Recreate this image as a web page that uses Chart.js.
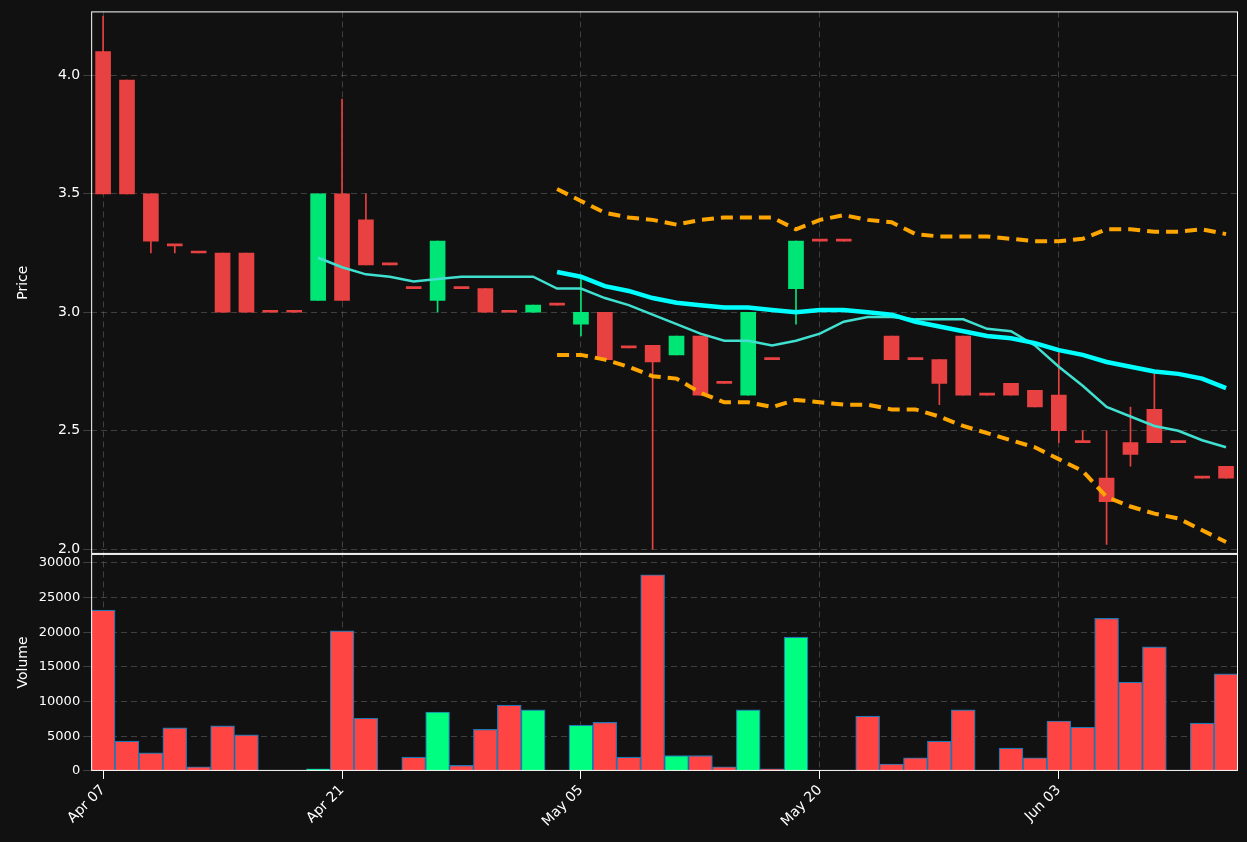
<!DOCTYPE html>
<html><head><meta charset="utf-8">
<script src="https://cdn.jsdelivr.net/npm/chart.js@4"></script>
<style>html,body{margin:0;padding:0;background:#111111;}#c{display:block;}</style>
</head><body>
<div style="width:1247px;height:842px"><canvas id="c"></canvas></div>
<script>
const tickPositions=[0,10,20,30,40];
const tickLabels=["Apr 07","Apr 21","May 05","May 20","Jun 03"];
const openP =[4.1,3.98,3.5,3.28,3.25,3.25,3.25,3.0,3.0,3.05,3.5,3.39,3.2,3.1,3.05,3.1,3.1,3.0,3.0,3.03,2.95,3.0,2.85,2.86,2.82,2.9,2.7,2.65,2.8,3.1,3.3,3.3,null,2.9,2.8,2.8,2.9,2.65,2.7,2.67,2.65,2.45,2.3,2.45,2.59,2.45,2.3,2.35];
const closeP=[3.5,3.5,3.3,3.28,3.25,3.0,3.0,3.0,3.0,3.5,3.05,3.2,3.2,3.1,3.3,3.1,3.0,3.0,3.03,3.03,3.0,2.8,2.85,2.79,2.9,2.65,2.7,3.0,2.8,3.3,3.3,3.3,null,2.8,2.8,2.7,2.65,2.65,2.65,2.6,2.5,2.45,2.2,2.4,2.45,2.45,2.3,2.3];
const highP =[4.25,3.98,3.5,3.28,3.25,3.25,3.25,3.0,3.0,3.5,3.9,3.5,3.2,3.1,3.3,3.1,3.1,3.0,3.03,3.03,3.15,3.0,2.85,2.86,2.9,2.9,2.7,3.0,2.8,3.3,3.3,3.3,null,2.9,2.8,2.8,2.9,2.65,2.7,2.67,2.83,2.5,2.5,2.6,2.74,2.45,2.3,2.35];
const lowP  =[3.5,3.5,3.25,3.25,3.25,3.0,3.0,3.0,3.0,3.05,3.05,3.2,3.2,3.1,3.0,3.1,3.0,3.0,3.0,3.03,2.9,2.8,2.85,2.0,2.82,2.65,2.7,2.65,2.8,2.95,3.3,3.3,null,2.8,2.8,2.61,2.65,2.65,2.65,2.6,2.45,2.45,2.02,2.35,2.45,2.45,2.3,2.3];
const volume=[23200,4300,2600,6200,600,6500,5200,0,0,300,20200,7600,0,2000,8500,800,6000,9500,8800,0,6600,7000,2000,28300,2200,2200,600,8800,300,19300,100,0,7900,1000,1900,4300,8800,0,3300,1900,7200,6300,22000,12800,17900,0,6900,14000];
const ma5=[null,null,null,null,null,null,null,null,null,3.23,3.19,3.16,3.15,3.13,3.14,3.15,3.15,3.15,3.15,3.10,3.10,3.06,3.03,2.99,2.95,2.91,2.88,2.88,2.86,2.88,2.91,2.96,2.98,2.98,2.97,2.97,2.97,2.93,2.92,2.86,2.77,2.69,2.60,2.56,2.52,2.50,2.46,2.43];
const pad19=Array(19).fill(null);
const ma20=pad19.concat([3.17,3.15,3.11,3.09,3.06,3.04,3.03,3.02,3.02,3.01,3.00,3.01,3.01,3.00,2.99,2.96,2.94,2.92,2.90,2.89,2.87,2.84,2.82,2.79,2.77,2.75,2.74,2.72,2.68]);
const upper=pad19.concat([3.52,3.47,3.42,3.40,3.39,3.37,3.39,3.40,3.40,3.40,3.35,3.39,3.41,3.39,3.38,3.33,3.32,3.32,3.32,3.31,3.30,3.30,3.31,3.35,3.35,3.34,3.34,3.35,3.33]);
const lower=pad19.concat([2.82,2.82,2.80,2.77,2.73,2.72,2.66,2.62,2.62,2.60,2.63,2.62,2.61,2.61,2.59,2.59,2.56,2.52,2.49,2.46,2.43,2.38,2.33,2.22,2.18,2.15,2.13,2.08,2.03]);

const RED='#e84141',GREEN='#00e676',VRED='#ff4444',VGREEN='#00ff80';
const labels=openP.map((_,i)=>String(i));
const up=openP.map((o,i)=>closeP[i]>o);
const bodies=openP.map((o,i)=>o==null?null:[Math.min(o,closeP[i]),Math.max(o,closeP[i])]);
const wicks=openP.map((o,i)=>o==null?null:[lowP[i],highP[i]]);
const cCol=up.map(u=>u?GREEN:RED);
const vCol=up.map(u=>u?VGREEN:VRED);

const frame={id:'frame',afterDraw(ch){const c=ch.ctx,a=ch.chartArea;c.save();c.strokeStyle='#ffffff';c.lineWidth=1;
 for(const id of ['y','v']){const s=ch.scales[id];c.strokeRect(a.left+0.5,s.top+0.5,a.right-a.left-1,s.bottom-s.top-1);}c.restore();}};
const gridCol='rgba(120,120,120,0.45)';
const font={family:'DejaVu Sans',size:14};
new Chart(document.getElementById('c'),{
 data:{labels,datasets:[
  {type:'line',data:upper,borderColor:'#ffa500',borderWidth:4,borderDash:[12,7],pointRadius:0,yAxisID:'y',order:1},
  {type:'line',data:lower,borderColor:'#ffa500',borderWidth:4,borderDash:[12,7],pointRadius:0,yAxisID:'y',order:1},
  {type:'line',data:ma20,borderColor:'#00ffff',borderWidth:4.5,pointRadius:0,yAxisID:'y',order:1},
  {type:'line',data:ma5,borderColor:'#40e0d0',borderWidth:2.5,pointRadius:0,yAxisID:'y',order:1},
  {type:'bar',data:wicks,backgroundColor:cCol,barThickness:1,grouped:false,yAxisID:'y',order:3},
  {type:'bar',data:bodies,backgroundColor:cCol,borderColor:cCol,borderWidth:0,barThickness:15,minBarLength:2,grouped:false,yAxisID:'y',order:2},
  {type:'bar',data:volume,backgroundColor:vCol,borderColor:'#1f77b4',borderWidth:1.2,barPercentage:1,categoryPercentage:1,grouped:false,yAxisID:'v',order:2}
 ]},
 options:{responsive:true,maintainAspectRatio:false,animation:false,
  layout:{padding:{top:10,right:9,left:11,bottom:9}},
  plugins:{legend:{display:false},tooltip:{enabled:false}},
  scales:{
   x:{offset:true,grid:{offset:false,color:c=>tickPositions.includes(c.index)?gridCol:'rgba(0,0,0,0)',drawTicks:true,tickColor:c=>tickPositions.includes(c.index)?'#ffffff':'rgba(0,0,0,0)'},
      border:{display:false,dash:[6,4]},
      ticks:{autoSkip:false,maxRotation:45,minRotation:45,color:'#ffffff',font,
        callback:(v,i)=>{const k=tickPositions.indexOf(i);return k>=0?tickLabels[k]:'';}}},
   v:{type:'linear',position:'left',stack:'s',stackWeight:1,min:0,max:31300,
      afterBuildTicks:s=>{s.ticks=[0,5000,10000,15000,20000,25000,30000].map(v=>({value:v}));},
      grid:{color:gridCol},border:{display:false,dash:[6,4]},
      ticks:{color:'#ffffff',font:{family:'DejaVu Sans',size:13},autoSkip:false,callback:v=>String(v)},
      title:{display:true,text:'Volume',color:'#ffffff',font:{family:'DejaVu Sans',size:14}}},
   y:{type:'linear',position:'left',stack:'s',stackWeight:2.5,min:1.98,max:4.27,
      afterBuildTicks:s=>{s.ticks=[2.0,2.5,3.0,3.5,4.0].map(v=>({value:v}));},
      grid:{color:gridCol},border:{display:false,dash:[6,4]},
      ticks:{color:'#ffffff',font,callback:v=>v.toFixed(1)},
      title:{display:true,text:'Price',color:'#ffffff',font:{family:'DejaVu Sans',size:14}}}
  }},
 plugins:[frame]
});
</script></body></html>
